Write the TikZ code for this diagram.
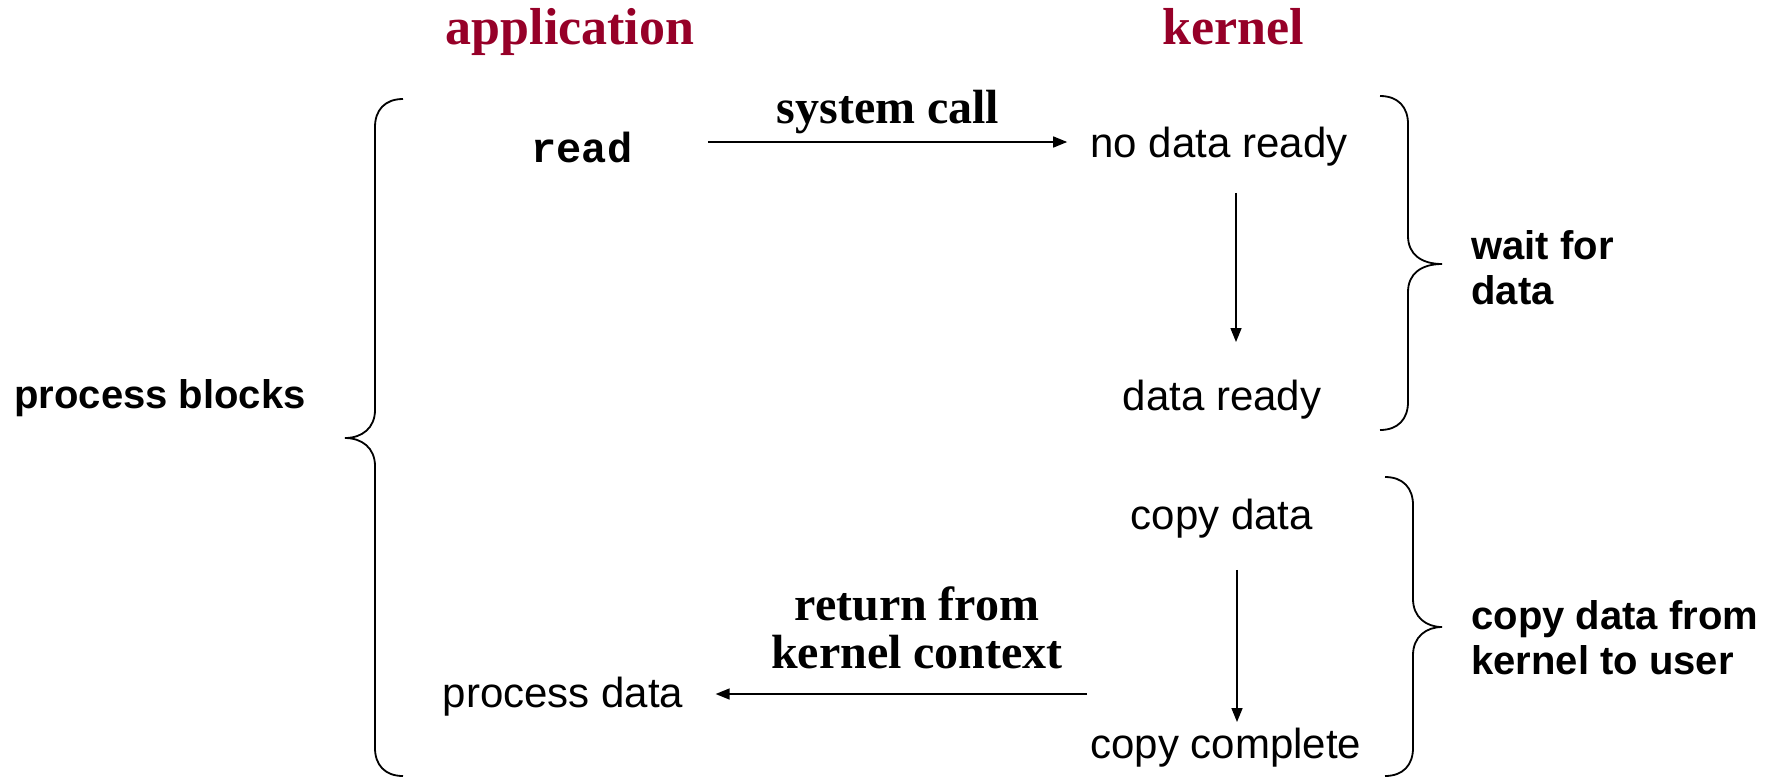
\documentclass[tikz,border=0pt]{standalone}
\usepackage{fontspec}
\setmainfont{Liberation Serif}
\setsansfont{Liberation Sans}
\setmonofont{Liberation Mono}
\usetikzlibrary{arrows.meta}
\definecolor{appred}{RGB}{150,0,40}
\tikzset{
  title/.style={inner sep=0pt, anchor=base, text=appred, font=\rmfamily\bfseries\fontsize{26}{30}\selectfont},
  lab/.style={inner sep=0pt, align=center, font=\rmfamily\bfseries\fontsize{24}{24}\selectfont},
  state/.style={inner sep=0pt, font=\sffamily\fontsize{21}{25}\selectfont},
  code/.style={inner sep=0pt, font=\ttfamily\bfseries\fontsize{21}{25}\selectfont},
  side/.style={inner sep=0pt, align=left, font=\sffamily\bfseries\fontsize{20}{22.5}\selectfont},
  arr/.style={line width=0.75pt, -{Triangle[length=7pt,width=5.5pt]}},
  brace/.style={line width=0.9pt}
}
\begin{document}
\begin{tikzpicture}[x=0.5pt,y=-0.5pt]
\useasboundingbox (0,0) rectangle (1771,777);

% column headings, sharing one baseline
\node[title] (app) at (570,44) {application};
\node[title] (ker) at (1233,44) {kernel};

% application side
\node[code]  (read) at (582,147) {read};
\node[state] (proc) at (563,697) {process data};

% kernel side
\node[state] (ndr) at (1219,147) {no data ready};
\node[state] (dr)  at (1222,400) {data ready};
\node[state] (cpd) at (1222,519) {copy data};
\node[state] (cpc) at (1226,748) {copy complete};

% arrow labels
\node[lab] (sys) at (888,112) {system call};
\node[lab] (ret) at (917,628) {return from\\kernel context};

% side notes
\node[side] (blk) at (160,398) {process blocks};
\node[side, anchor=west] (wait) at (1471,268) {wait for\\data};
\node[side, anchor=west] (copy) at (1471,638) {copy data from\\kernel to user};

% connectors
\coordinate (v1) at (1236,0);
\coordinate (v2) at (1237,0);
\draw[arr, shorten <=37.5pt, shorten >=11.5pt]
  ([yshift=2.5pt]read.east) -- ([yshift=2.5pt]read.east -| ndr.west);
\draw[arr, shorten <=13pt, shorten >=19pt]
  (ndr.south -| v1) -- (dr.north -| v1);
\draw[arr, shorten <=15.5pt, shorten >=3pt]
  (cpd.south -| v2) -- (cpc.north -| v2);
\draw[arr, shorten <=1.5pt, shorten >=16pt]
  ([yshift=1.5pt]proc.east -| cpc.west) -- ([yshift=1.5pt]proc.east);

% braces
\draw[brace] (403,99) .. controls (385,99) and (375,110) .. (375,127)
  -- (375,410) .. controls (375,428) and (362,438) .. (345,438)
  .. controls (362,438) and (375,448) .. (375,466)
  -- (375,748) .. controls (375,765) and (385,776) .. (403,776);
\draw[brace] (1380,96) .. controls (1398,96) and (1408,107) .. (1408,124)
  -- (1408,236) .. controls (1408,254) and (1421,264) .. (1442,264)
  .. controls (1421,264) and (1408,274) .. (1408,292)
  -- (1408,402) .. controls (1408,419) and (1398,430) .. (1380,430);
\draw[brace] (1385,477) .. controls (1403,477) and (1413,488) .. (1413,505)
  -- (1413,599) .. controls (1413,617) and (1426,627) .. (1442,627)
  .. controls (1426,627) and (1413,637) .. (1413,655)
  -- (1413,748) .. controls (1413,765) and (1403,776) .. (1385,776);
\end{tikzpicture}
\end{document}
